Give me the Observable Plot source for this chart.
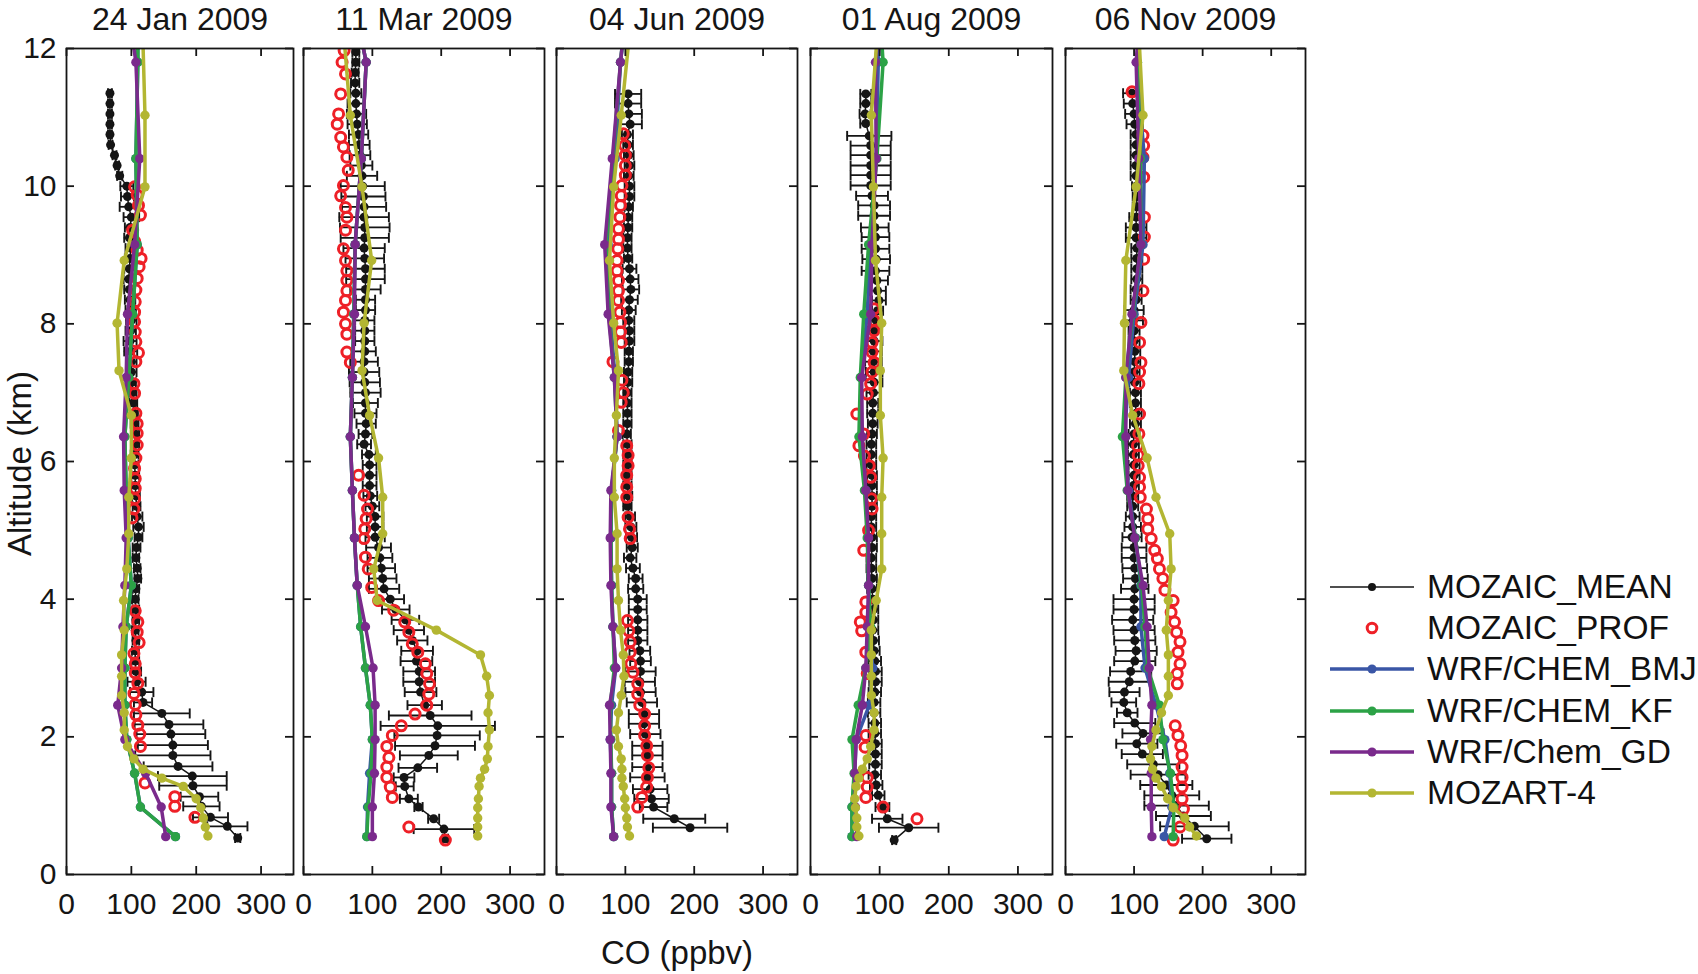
<!DOCTYPE html>
<html><head><meta charset="utf-8">
<script src="https://cdn.jsdelivr.net/npm/d3@7"></script>
<script src="https://cdn.jsdelivr.net/npm/@observablehq/plot@0.6"></script>
<style>
html,body{margin:0;padding:0;background:#fff;}
#wrap{position:relative;width:1698px;height:974px;overflow:hidden;font-family:"Liberation Sans",Arial,Helvetica,sans-serif;color:#111;}
.row{position:absolute;left:1330px;height:40px;display:flex;align-items:center;white-space:nowrap;}
.row span{font-size:33.5px;margin-left:13px;color:#111;}
</style></head><body><div id="wrap"></div>
<script>
// ---------------- data ----------------
const panelTitles = ["24 Jan 2009", "11 Mar 2009", "04 Jun 2009", "01 Aug 2009", "06 Nov 2009"];
const xTicks = [0, 100, 200, 300];
const yTicks = [0, 2, 4, 6, 8, 10, 12];
const seriesNames = ["MOZAIC_MEAN", "MOZAIC_PROF", "WRF/CHEM_BMJ", "WRF/CHEM_KF", "WRF/Chem_GD", "MOZART-4"];

// model vertical levels (km)
const wrfAlt = [0.55, 0.98, 1.47, 1.96, 2.46, 3.0, 3.6, 4.2, 4.89, 5.58, 6.36, 7.22, 8.14, 9.15, 10.4, 11.8, 13.4];
const mozartAlt = [0.56, 0.69, 0.82, 0.97, 1.10, 1.28, 1.40, 1.53, 1.68, 1.86, 2.1, 2.35, 2.6, 2.88, 3.19, 3.55, 3.98, 4.44, 4.95, 5.48, 6.05, 6.67, 7.32, 8.01, 8.92, 9.99, 11.03, 12.4];

// WRF/CHEM_BMJ CO (ppbv) at wrfAlt
const bmjJan = [168, 114, 105, 93, 90, 90, 92, 100, 95, 92, 90, 96, 102, 109, 107, 110, 110];
const bmjMar = [92, 93, 96, 100, 97, 90, 83, 78, 74, 71, 68, 71, 73, 75, 84, 91, 59];
const bmjJun = [83, 80, 80, 78, 80, 86, 82, 80, 79, 80, 88, 85, 78, 75, 85, 93, 109];
const bmjAug = [60, 60, 64, 66, 85, 90, 85, 84, 83, 80, 73, 73, 82, 87, 95, 98, 104];
const bmjNov = [144, 155, 152, 145, 132, 116, 110, 110, 102, 92, 86, 92, 100, 113, 115, 104, 115];
// WRF/CHEM_KF
const kfJan = [168, 114, 105, 93, 90, 90, 92, 100, 95, 92, 90, 96, 102, 109, 107, 110, 110];
const kfMar = [92, 94, 98, 100, 97, 90, 83, 78, 74, 71, 68, 71, 73, 75, 84, 91, 59];
const kfJun = [83, 80, 80, 79, 78, 84, 82, 80, 79, 80, 88, 84, 76, 72, 82, 93, 109];
const kfAug = [60, 60, 63, 60, 69, 80, 87, 84, 82, 78, 70, 72, 77, 84, 96, 105, 95];
const kfNov = [157, 158, 153, 142, 137, 120, 116, 111, 102, 90, 83, 88, 98, 110, 109, 105, 115];
// WRF/Chem_GD
const gdJan = [153, 146, 122, 90, 79, 85, 87, 90, 92, 89, 88, 92, 94, 105, 113, 107, 83];
const gdMar = [100, 100, 103, 104, 104, 101, 90, 78, 74, 71, 68, 71, 74, 75, 84, 91, 59];
const gdJun = [83, 79, 79, 78, 77, 86, 82, 79, 78, 79, 88, 84, 75, 70, 81, 93, 109];
const gdAug = [67, 65, 64, 66, 75, 80, 82, 84, 84, 80, 75, 74, 87, 89, 95, 94, 110];
const gdNov = [126, 125, 125, 124, 126, 122, 119, 113, 101, 91, 88, 88, 97, 110, 107, 103, 115];
// MOZART-4 at mozartAlt
const mozJan = [218, 214, 211, 207, 200, 180, 147, 118, 104, 94, 89, 89, 85, 85, 85, 89, 88, 93, 96, 96, 100, 100, 81, 78, 89, 121, 121, 117];
const mozMar = [253, 253, 253, 253, 254, 255, 257, 263, 267, 268, 270, 268, 270, 266, 257, 193, 107, 102, 115, 115, 109, 96, 85, 88, 99, 85, 68, 57];
const mozJun = [106, 103, 102, 100, 99, 97, 95, 95, 94, 90, 87, 90, 94, 98, 97, 93, 90, 88, 88, 84, 84, 87, 90, 83, 77, 83, 94, 108];
const mozAug = [70, 67, 67, 65, 64, 66, 70, 75, 82, 87, 92, 92, 88, 88, 88, 88, 95, 103, 103, 103, 105, 101, 101, 103, 94, 91, 88, 98];
const mozNov = [191, 181, 174, 157, 149, 140, 132, 127, 124, 126, 132, 140, 150, 150, 150, 147, 150, 154, 152, 132, 119, 98, 85, 86, 88, 103, 113, 106];

// MOZAIC_MEAN: [altitude km, CO ppbv, std dev]
const meanJan = [[11.35,67,3],[11.2,67,3],[11.05,67,3],[10.9,67,3],[10.75,67,3],[10.6,68,3],[10.45,74,3],[10.3,78,3],[10.15,82,4],[10.0,93,10],[9.85,94,10],[9.7,96,14],[9.55,100,12],[9.4,98,8],[9.25,97,8],[9.1,99,8],[8.95,98,8],[8.8,97,8],[8.65,96,8],[8.5,97,8],[8.35,98,8],[8.2,99,8],[8.05,100,8],[7.9,99,8],[7.75,98,10],[7.6,99,10],[7.45,100,8],[7.3,100,8],[7.15,101,6],[7.0,102,6],[6.85,103,6],[6.7,104,6],[6.55,105,6],[6.4,106,6],[6.25,106,6],[6.1,105,6],[5.95,105,6],[5.8,106,6],[5.65,106,6],[5.5,107,6],[5.35,108,6],[5.2,109,8],[5.05,111,8],[4.9,111,6],[4.75,108,6],[4.6,107,5],[4.45,109,5],[4.3,110,5],[4.15,107,5],[4.0,106,5],[3.85,107,5],[3.7,107,5],[3.55,106,5],[3.4,107,5],[3.25,106,5],[3.1,106,6],[2.95,107,8],[2.8,108,14],[2.65,116,18],[2.5,118,14],[2.34,147,43],[2.18,158,53],[2.04,161,53],[1.88,164,54],[1.73,164,58],[1.57,172,53],[1.43,194,53],[1.29,195,52],[1.13,205,29],[0.99,208,28],[0.83,222,27],[0.70,248,31],[0.53,264,4]];
const meanMar = [[11.95,76,5],[11.8,76,5],[11.65,75,5],[11.5,75,6],[11.35,76,8],[11.2,76,12],[11.05,77,14],[10.9,78,14],[10.75,80,14],[10.6,81,15],[10.45,82,15],[10.3,84,16],[10.15,85,22],[10.0,86,32],[9.85,87,32],[9.7,88,32],[9.55,88,36],[9.4,89,36],[9.25,89,35],[9.1,88,30],[8.95,89,28],[8.8,90,28],[8.65,90,28],[8.5,90,22],[8.35,90,14],[8.2,90,14],[8.05,89,14],[7.9,89,14],[7.75,89,14],[7.6,89,16],[7.45,88,20],[7.3,88,22],[7.15,89,22],[7.0,90,22],[6.85,90,18],[6.7,90,16],[6.55,91,14],[6.4,90,10],[6.25,88,10],[6.1,95,10],[5.95,96,10],[5.8,96,10],[5.65,96,10],[5.5,97,10],[5.35,100,10],[5.2,104,12],[5.05,104,12],[4.9,104,14],[4.75,109,18],[4.6,111,18],[4.45,113,20],[4.3,115,20],[4.15,117,22],[4.0,126,20],[3.85,134,20],[3.7,148,20],[3.55,153,22],[3.4,158,22],[3.25,165,23],[3.1,164,23],[2.95,168,23],[2.8,168,23],[2.65,170,23],[2.46,176,25],[2.31,184,60],[2.16,195,83],[2.02,194,62],[1.87,191,58],[1.73,182,42],[1.55,166,28],[1.41,146,15],[1.28,147,13],[1.10,153,13],[0.98,167,6],[0.81,189,8],[0.66,204,44],[0.52,206,4]];
const meanJun = [[11.34,104,19],[11.2,104,19],[11.05,105,19],[10.9,107,17],[10.75,103,8],[10.6,104,7],[10.45,105,7],[10.3,106,7],[10.15,105,7],[10.0,106,7],[9.85,106,7],[9.7,105,6],[9.55,104,6],[9.4,104,6],[9.25,103,6],[9.1,103,6],[8.95,104,6],[8.8,106,10],[8.65,107,12],[8.5,108,12],[8.35,106,12],[8.2,105,10],[8.05,105,8],[7.9,106,7],[7.75,106,7],[7.6,105,6],[7.45,105,6],[7.3,104,6],[7.15,104,6],[7.0,103,6],[6.85,103,6],[6.7,103,6],[6.55,103,6],[6.4,102,6],[6.25,103,6],[6.1,103,6],[5.95,103,6],[5.8,103,6],[5.65,103,6],[5.5,104,6],[5.35,103,6],[5.2,107,7],[5.05,108,8],[4.9,109,8],[4.75,110,8],[4.6,107,9],[4.45,111,10],[4.3,115,10],[4.15,115,11],[4.0,118,13],[3.85,118,13],[3.7,118,14],[3.55,118,14],[3.4,118,14],[3.25,121,15],[3.1,122,15],[2.95,122,22],[2.8,121,22],[2.65,122,22],[2.5,124,22],[2.33,127,22],[2.19,127,22],[2.04,129,22],[1.87,132,22],[1.73,132,22],[1.56,132,22],[1.41,132,25],[1.24,136,25],[1.1,138,25],[0.98,141,20],[0.81,171,45],[0.68,194,54]];
const meanAug = [[11.34,80,8],[11.2,80,8],[11.05,79,8],[10.91,80,8],[10.73,85,32],[10.59,87,29],[10.45,87,29],[10.3,87,29],[10.16,87,29],[10.01,87,29],[9.86,89,23],[9.72,92,23],[9.57,92,23],[9.4,93,20],[9.26,94,20],[9.09,94,20],[8.94,95,20],[8.77,94,20],[8.63,96,16],[8.48,97,12],[8.34,99,10],[8.19,97,8],[8.05,95,8],[7.9,93,10],[7.75,92,12],[7.6,91,12],[7.45,91,12],[7.3,92,12],[7.15,92,12],[7.0,91,10],[6.85,90,8],[6.7,90,8],[6.55,90,7],[6.4,89,7],[6.25,88,7],[6.1,88,7],[5.95,88,7],[5.8,89,7],[5.65,89,7],[5.5,89,7],[5.35,89,7],[5.2,88,7],[5.05,88,7],[4.9,89,7],[4.75,89,7],[4.6,88,7],[4.45,88,7],[4.3,89,7],[4.15,89,7],[4.0,90,7],[3.85,91,7],[3.7,91,7],[3.55,90,8],[3.4,91,8],[3.25,92,8],[3.1,93,9],[2.95,94,9],[2.8,94,9],[2.65,93,9],[2.5,92,9],[2.35,92,9],[2.2,93,9],[2.05,93,9],[1.9,94,9],[1.75,94,9],[1.6,94,9],[1.45,93,9],[1.3,95,9],[1.15,98,9],[0.98,104,10],[0.81,111,22],[0.68,142,43],[0.5,121,3]];
const meanNov = [[11.35,97,13],[11.2,98,13],[11.05,100,13],[10.9,101,12],[10.75,103,8],[10.6,103,8],[10.45,103,8],[10.3,103,8],[10.15,103,8],[10.0,103,6],[9.85,104,6],[9.7,104,6],[9.55,103,10],[9.4,103,15],[9.25,103,15],[9.1,104,8],[8.95,104,8],[8.8,104,8],[8.65,104,8],[8.5,103,8],[8.35,103,8],[8.2,100,14],[8.05,99,14],[7.9,100,8],[7.75,100,8],[7.6,101,8],[7.45,101,8],[7.3,100,8],[7.15,101,8],[7.0,102,8],[6.85,102,8],[6.7,103,8],[6.55,102,8],[6.4,100,8],[6.25,99,8],[6.1,99,8],[5.95,100,8],[5.8,100,8],[5.65,99,8],[5.5,98,8],[5.35,98,8],[5.2,98,10],[5.05,98,12],[4.9,97,14],[4.75,100,18],[4.6,100,18],[4.45,101,18],[4.3,102,18],[4.15,101,20],[4.0,100,30],[3.85,100,30],[3.7,98,30],[3.55,100,30],[3.4,101,30],[3.25,103,30],[3.1,101,30],[2.95,95,30],[2.8,93,30],[2.65,86,22],[2.5,85,18],[2.35,90,15],[2.2,101,30],[2.05,113,30],[1.9,104,30],[1.75,112,30],[1.6,128,38],[1.45,135,40],[1.3,147,38],[1.15,155,40],[1.0,162,47],[0.85,172,40],[0.7,188,50],[0.52,206,36]];

// MOZAIC_PROF: [altitude km, CO ppbv]
const profJan = [[9.99,105],[9.87,109],[9.72,111],[9.58,114],[9.36,102],[9.2,105],[9.07,109],[8.95,115],[8.83,112],[8.66,109],[8.49,107],[8.32,106],[8.17,105],[8.03,105],[7.88,106],[7.74,107],[7.58,111],[7.45,107],[7.13,104],[6.99,105],[6.7,107],[6.55,109],[6.41,109],[6.24,109],[6.05,107],[5.9,105],[5.75,106],[5.61,106],[5.46,105],[5.31,104],[5.18,101],[3.83,106],[3.67,110],[3.52,109],[3.37,112],[3.21,104],[3.06,106],[2.93,106],[2.78,110],[2.63,104],[2.47,106],[2.32,107],[2.17,110],[2.04,113],[1.86,114],[1.33,121],[1.13,167],[0.99,167],[0.83,198]];
const profMar = [[11.97,59],[11.8,56],[11.63,61],[11.34,54],[11.05,51],[10.9,49],[10.71,54],[10.57,58],[10.42,63],[10.23,65],[10.01,58],[9.86,54],[9.69,61],[9.55,63],[9.36,61],[9.09,58],[8.92,61],[8.77,63],[8.63,63],[8.48,63],[8.34,61],[8.17,58],[8.0,61],[7.85,63],[7.59,63],[7.44,68],[5.8,80],[5.51,88],[5.31,93],[5.17,91],[5.02,89],[4.88,88],[4.61,90],[4.44,94],[4.17,99],[3.98,109],[3.84,131],[3.67,147],[3.52,153],[3.35,158],[3.23,166],[3.06,177],[2.92,179],[2.77,183],[2.62,182],[2.46,179],[2.33,162],[2.16,142],[2.02,129],[1.86,121],[1.70,124],[1.56,121],[1.41,121],[1.27,126],[1.12,129],[0.69,153],[0.50,206]];
const profJun = [[10.76,97],[10.59,99],[10.45,100],[10.3,100],[10.16,100],[10.01,95],[9.86,94],[9.72,93],[9.55,92],[9.38,90],[9.23,90],[9.09,89],[8.92,88],[8.77,88],[8.63,90],[8.48,90],[8.34,90],[8.17,92],[8.02,93],[7.88,93],[7.73,94],[7.45,82],[7.18,95],[7.0,97],[6.86,94],[6.45,90],[6.23,102],[6.09,104],[5.94,104],[5.8,102],[5.63,102],[5.48,102],[5.19,104],[5.02,106],[4.88,107],[3.69,103],[3.54,105],[3.38,107],[3.23,107],[3.06,108],[2.94,111],[2.77,118],[2.62,118],[2.46,121],[2.33,128],[2.16,128],[2.02,128],[1.87,131],[1.73,132],[1.55,134],[1.41,132],[1.27,131],[1.12,124],[0.98,118]];
const profAug = [[8.22,92],[8.05,92],[7.9,92],[7.73,89],[7.59,89],[7.44,92],[7.3,89],[7.13,87],[6.98,82],[6.69,67],[6.4,77],[6.23,70],[6.08,78],[5.94,85],[5.77,87],[5.46,88],[5.31,89],[5.0,84],[4.71,77],[3.96,80],[3.81,80],[3.67,72],[3.54,74],[3.23,80],[2.92,82],[2.02,80],[1.85,79],[1.41,82],[1.27,82],[1.12,80],[0.98,105],[0.81,154]];
const profNov = [[11.37,97],[10.74,113],[10.59,114],[10.42,113],[10.13,114],[9.55,115],[9.26,115],[8.94,114],[8.48,113],[8.02,110],[7.73,108],[7.44,110],[7.3,108],[7.13,107],[6.69,108],[6.4,107],[6.23,105],[6.09,106],[5.94,106],[5.77,108],[5.63,108],[5.48,109],[5.31,118],[5.17,120],[5.02,120],[4.88,125],[4.71,130],[4.59,134],[4.44,137],[4.30,142],[4.13,145],[3.98,157],[3.81,154],[3.67,159],[3.52,162],[3.38,167],[3.23,164],[3.06,167],[2.92,163],[2.77,163],[2.16,160],[2.02,164],[1.87,168],[1.73,170],[1.56,170],[1.41,170],[1.27,170],[1.10,170],[0.95,172],[0.69,167],[0.50,157]];

// ---------------- drawing ----------------
const BLACK = "#151515", RED = "#ee2027", BLUE = "#3a56a6", GREEN = "#2ca246", PURPLE = "#7a2a8c", OLIVE = "#b3b632";
const panelData = [
  {mean: meanJan, prof: profJan, bmj: bmjJan, kf: kfJan, gd: gdJan, moz: mozJan},
  {mean: meanMar, prof: profMar, bmj: bmjMar, kf: kfMar, gd: gdMar, moz: mozMar},
  {mean: meanJun, prof: profJun, bmj: bmjJun, kf: kfJun, gd: gdJun, moz: mozJun},
  {mean: meanAug, prof: profAug, bmj: bmjAug, kf: kfAug, gd: gdAug, moz: mozAug},
  {mean: meanNov, prof: profNov, bmj: bmjNov, kf: kfNov, gd: gdNov, moz: mozNov}
];
const frameLeft = [66, 303, 556, 810, 1065];
const frameWidth = [227, 241, 241, 242, 240];
const MT = 48, FH = 826, MB = 100, TICK = 8;
const vbar = {draw(ctx, size) { const h = Math.sqrt(size / Math.PI); ctx.moveTo(0, -h); ctx.lineTo(0, h); }};
const zip = (alts, vals) => alts.map((a, i) => ({alt: a, co: vals[i]}));
const wrap = document.getElementById("wrap");

function modelMarks(alts, vals, color) {
  const d = zip(alts, vals);
  return [
    Plot.line(d, {x: "co", y: "alt", stroke: color, strokeWidth: 3.5, clip: true}),
    Plot.dot(d, {x: "co", y: "alt", r: 4.7, fill: color, clip: true})
  ];
}

panelData.forEach((p, i) => {
  const ml = i === 0 ? 66 : 24, mr = 24, W = frameWidth[i];
  const marks = [
    Plot.ruleY(p.mean, {y: d => d[0], x1: d => d[1] - d[2], x2: d => d[1] + d[2], stroke: BLACK, strokeWidth: 1.8, clip: true}),
    Plot.dot(p.mean, {x: d => d[1] - d[2], y: d => d[0], symbol: vbar, r: 5, fill: "none", stroke: BLACK, strokeWidth: 1.9, clip: true}),
    Plot.dot(p.mean, {x: d => d[1] + d[2], y: d => d[0], symbol: vbar, r: 5, fill: "none", stroke: BLACK, strokeWidth: 1.9, clip: true}),
    Plot.line(p.mean, {x: d => d[1], y: d => d[0], stroke: BLACK, strokeWidth: 1.5, clip: true}),
    Plot.dot(p.mean, {x: d => d[1], y: d => d[0], r: 4.5, fill: BLACK, clip: true}),
    Plot.dot(p.prof, {x: d => d[1], y: d => d[0], r: 5.0, fill: "none", stroke: RED, strokeWidth: 3.0, clip: true}),
    ...modelMarks(wrfAlt, p.bmj, BLUE),
    ...modelMarks(wrfAlt, p.kf, GREEN),
    ...modelMarks(wrfAlt, p.gd, PURPLE),
    ...modelMarks(mozartAlt, p.moz, OLIVE),
    Plot.frame({stroke: BLACK, strokeWidth: 1.8}),
    Plot.tickX(xTicks, {x: d => d, insetBottom: FH - TICK, stroke: BLACK, strokeWidth: 1.8}),
    Plot.tickX(xTicks, {x: d => d, insetTop: FH - TICK, stroke: BLACK, strokeWidth: 1.8}),
    Plot.tickY(yTicks, {y: d => d, insetRight: W - TICK, stroke: BLACK, strokeWidth: 1.8}),
    Plot.tickY(yTicks, {y: d => d, insetLeft: W - TICK, stroke: BLACK, strokeWidth: 1.8}),
    Plot.axisX({ticks: xTicks, anchor: "bottom", tickSize: 0, tickPadding: 18, fontSize: 30, label: null, tickFormat: d => String(d)}),
    Plot.text([panelTitles[i]], {text: d => d, frameAnchor: "top", dy: -19, lineAnchor: "bottom", fontSize: 32, fill: BLACK})
  ];
  if (i === 0) {
    marks.push(Plot.axisY({ticks: yTicks, anchor: "left", tickSize: 0, tickPadding: 10, fontSize: 30, label: null}));
    marks.push(Plot.text(["Altitude (km)"], {text: d => d, frameAnchor: "left", dx: -46, dy: 2, rotate: -90, textAnchor: "middle", lineAnchor: "middle", fontSize: 33, fill: BLACK}));
  }
  if (i === 2) {
    marks.push(Plot.text(["CO (ppbv)"], {text: d => d, frameAnchor: "bottom", dy: 89, lineAnchor: "bottom", fontSize: 33, fill: BLACK}));
  }
  const svg = Plot.plot({
    width: ml + W + mr,
    height: MT + FH + MB,
    marginLeft: ml, marginRight: mr, marginTop: MT, marginBottom: MB,
    x: {domain: [0, 350], axis: null},
    y: {domain: [0, 12], axis: null},
    style: {background: "transparent", overflow: "visible", color: BLACK, fontFamily: '"Liberation Sans", Arial, Helvetica, sans-serif'},
    marks
  });
  svg.style.position = "absolute";
  svg.style.top = "0px";
  svg.style.left = (frameLeft[i] - ml) + "px";
  svg.style.maxWidth = "none";
  wrap.appendChild(svg);
});

// ---------------- legend ----------------
const legendColors = [BLACK, RED, BLUE, GREEN, PURPLE, OLIVE];
const legendCenters = [587, 628, 669, 711, 752, 793];
seriesNames.forEach((name, i) => {
  const row = d3.select(wrap).append("div").attr("class", "row").style("top", (legendCenters[i] - 20) + "px");
  const s = row.append("svg").attr("width", 84).attr("height", 40);
  if (i === 1) {
    s.append("circle").attr("cx", 42).attr("cy", 20).attr("r", 4.8).attr("fill", "none").attr("stroke", RED).attr("stroke-width", 3);
  } else {
    s.append("line").attr("x1", 0).attr("x2", 84).attr("y1", 20).attr("y2", 20).attr("stroke", legendColors[i]).attr("stroke-width", i === 0 ? 1.6 : 3.6);
    s.append("circle").attr("cx", 42).attr("cy", 20).attr("r", i === 0 ? 4 : 4.6).attr("fill", legendColors[i]);
  }
  row.append("span").text(name);
});
</script></body></html>
